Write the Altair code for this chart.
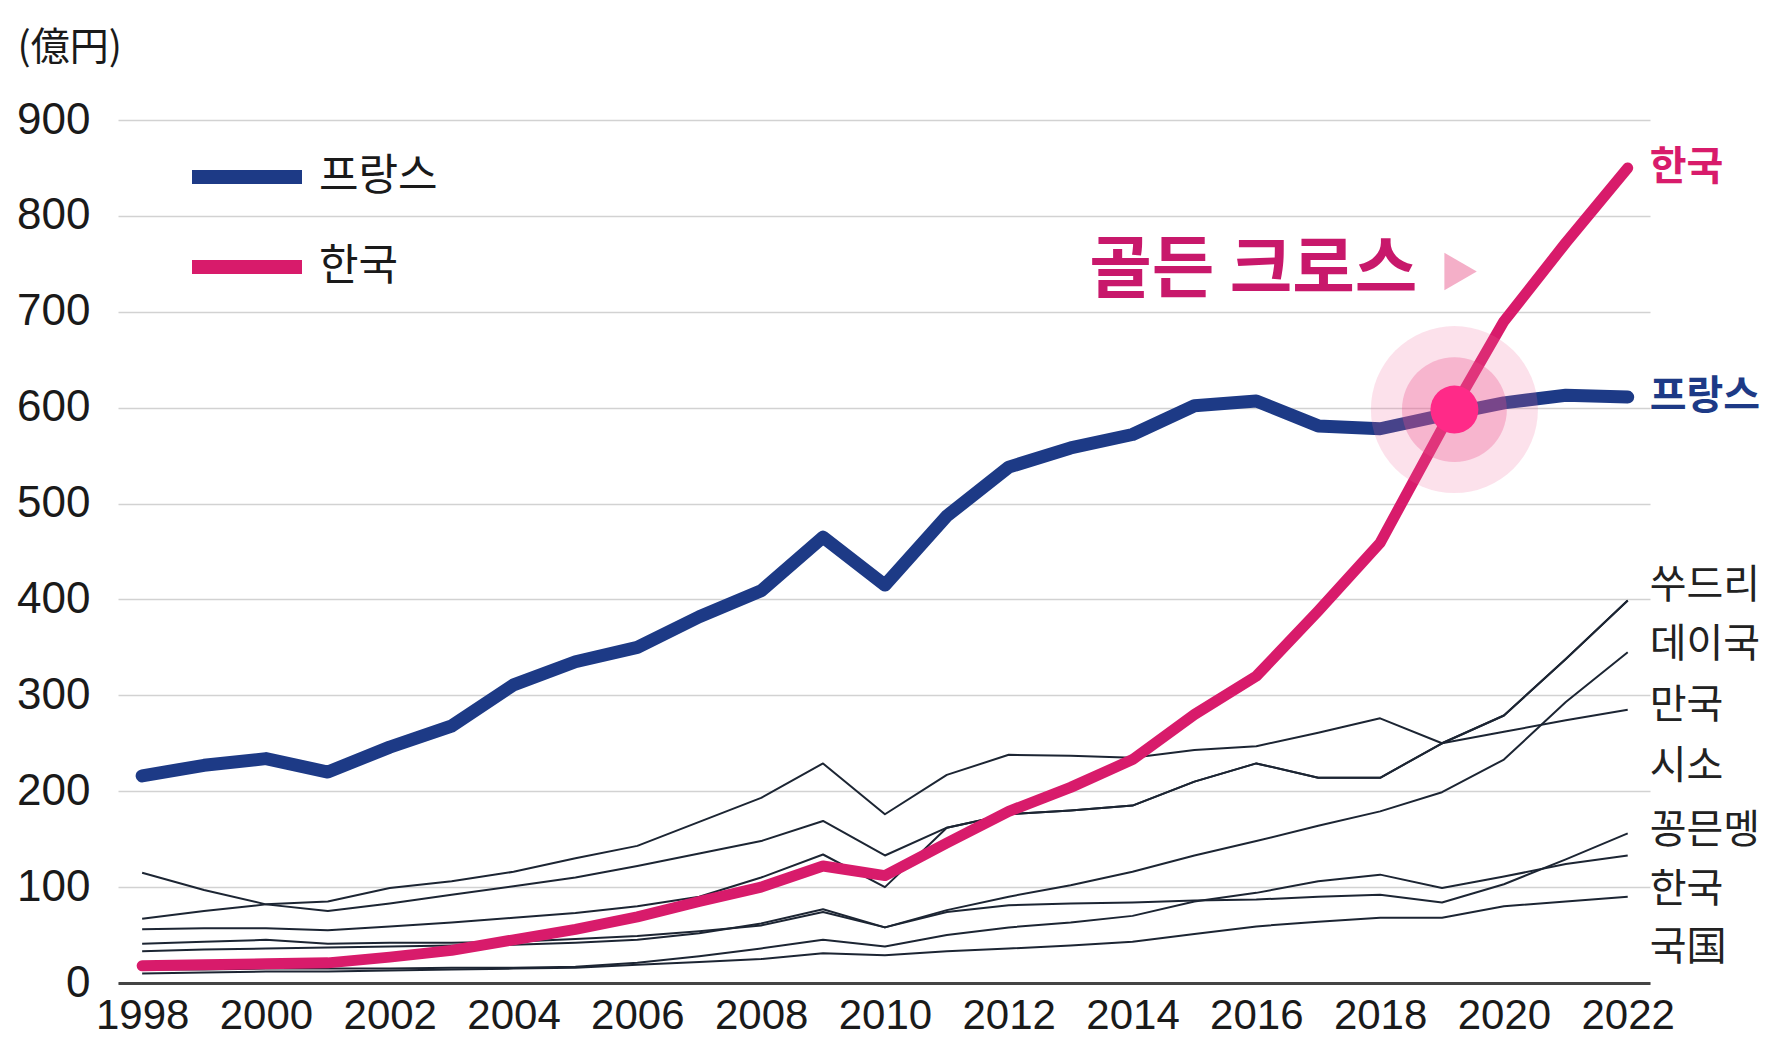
import altair as alt
import pandas as pd

# ---------------- data ----------------
years = list(range(1998, 2023))

france = [216, 227, 234, 220, 246, 268, 311, 335, 350, 382, 409, 465, 415,
          487, 538, 558, 572, 602, 607, 581, 578, 592, 605, 613, 611]
korea = [18, 19, 20, 21, 27, 34, 45, 56, 69, 85, 100, 122, 112,
         146, 179, 204, 233, 280, 320, 388, 459, 578, 690, 772, 850]

other_1 = [115, 97, 82, 75, 83, 92, 101, 110, 122, 135, 148, 169, 133,
           162, 176, 180, 185, 210, 229, 214, 214, 250, 279, 338, 399]
other_2 = [67, 75, 82, 85, 99, 106, 116, 130, 143, 168, 193, 229, 176,
           217, 238, 237, 235, 243, 247, 261, 276, 250, 262, 274, 285]
other_3 = [56, 57, 57, 55, 59, 63, 68, 73, 80, 90, 110, 134, 100,
           162, 176, 180, 185, 210, 229, 214, 214, 250, 279, 338, 399]
other_4 = [33, 35, 36, 37, 38, 39, 40, 42, 45, 52, 62, 77, 58,
           76, 90, 102, 116, 133, 148, 164, 179, 199, 233, 293, 345]
other_5 = [41, 43, 45, 41, 42, 42, 43, 46, 49, 54, 60, 74, 58,
           74, 81, 83, 84, 86, 87, 90, 92, 84, 103, 129, 156]
other_6 = [14, 14, 15, 15, 15, 16, 16, 17, 21, 28, 36, 45, 38,
           50, 58, 63, 70, 85, 94, 106, 113, 99, 111, 124, 133]
other_7 = [10, 11, 12, 12, 13, 14, 15, 16, 19, 22, 25, 31, 29,
           33, 36, 39, 43, 51, 59, 64, 68, 68, 80, 85, 90]

main_names = ["프랑스", "한국"]
side_labels = ["쑤드리", "데이국", "만국", "시소", "꽁믄멩", "한국", "국国"]
side_label_values = [414, 352, 289, 225, 158, 97, 36]

cross_year = [2019.2]
cross_value = [598]
annot_text = ["골든 크로스"]
annot_year = [2013.3]
annot_value = [742]
arrow_year = [2019.3]

# ---------------- tables ----------------
main_df = pd.DataFrame(
    [{"year": y, "value": v, "series": "프랑스"} for y, v in zip(years, france)]
    + [{"year": y, "value": v, "series": "한국"} for y, v in zip(years, korea)]
)
others = [other_1, other_2, other_3, other_4, other_5, other_6, other_7]
other_df = pd.DataFrame(
    [{"year": y, "value": v, "series": f"o{i}"}
     for i, s in enumerate(others) for y, v in zip(years, s)]
)
side_df = pd.DataFrame({"year": [years[-1]] * len(side_labels),
                        "value": side_label_values, "label": side_labels})
cross_df = pd.DataFrame({"year": cross_year, "value": cross_value})
annot_df = pd.DataFrame({"year": annot_year, "value": annot_value, "label": annot_text})
arrow_df = pd.DataFrame({"year": arrow_year, "value": annot_value})

NAVY = "#1D3A86"
PINK = "#D81B6B"
KFONT = "Noto Sans CJK KR"

xscale = alt.Scale(domain=[1997.61, 2022.36], nice=False, zero=False)
yscale = alt.Scale(domain=[0, 900], nice=False)

x_enc = alt.X("year:Q", scale=xscale, axis=alt.Axis(
    values=list(range(1998, 2023, 2)), format="d", grid=False, ticks=False,
    domain=True, domainColor="#444444", domainWidth=3,
    labelFont="Liberation Sans", labelFontSize=42, labelColor="#1a1a1a",
    labelPadding=12, title=None))
y_enc = alt.Y("value:Q", scale=yscale, axis=alt.Axis(
    values=list(range(0, 1000, 100)), grid=True, gridColor="#d2d2d2", gridWidth=1.6,
    domain=False, ticks=False, labelFont="Liberation Sans", labelFontSize=44,
    labelColor="#1a1a1a", labelPadding=28,
    title="(億円)", titleAngle=0, titleAlign="left", titleBaseline="middle",
    titleX=-101, titleY=-73, titleFont="Noto Sans CJK JP", titleFontSize=39,
    titleFontWeight="normal", titleColor="#1a1a1a"))

xs = alt.X("year:Q", scale=xscale)
ys = alt.Y("value:Q", scale=yscale)

color_enc = alt.Color(
    "series:N", scale=alt.Scale(domain=main_names, range=[NAVY, PINK]),
    sort=main_names,
    legend=alt.Legend(
        title=None, orient="none", legendX=67, legendY=-5, direction="vertical",
        symbolType="stroke", symbolSize=12100, symbolStrokeWidth=14,
        labelFont=KFONT, labelFontSize=43, labelColor="#1a1a1a", labelOffset=10,
        rowPadding=-56, padding=0, labelLimit=400,
    ),
)

black_lines = alt.Chart(other_df).mark_line(
    color="#1c2533", strokeWidth=2, strokeJoin="round"
).encode(x=x_enc, y=y_enc, detail="series:N")

fr_line = alt.Chart(main_df).transform_filter(alt.datum.series == "프랑스").mark_line(
    strokeCap="round", strokeJoin="round", strokeWidth=13
).encode(x=xs, y=ys, color=color_enc)

kr_line = alt.Chart(main_df).transform_filter(alt.datum.series == "한국").mark_line(
    strokeCap="round", strokeJoin="round", strokeWidth=11
).encode(x=xs, y=ys, color=color_enc)

glow_outer = alt.Chart(cross_df).mark_circle(size=27900, color="#F0679A", opacity=0.2).encode(x=xs, y=ys)
glow_mid = alt.Chart(cross_df).mark_circle(size=11000, color="#EC4F8B", opacity=0.3).encode(x=xs, y=ys)
glow_in = alt.Chart(cross_df).mark_circle(size=2300, color="#FF2A88", opacity=1).encode(x=xs, y=ys)

annot = alt.Chart(annot_df).mark_text(
    align="left", baseline="middle", font=KFONT, fontSize=68, fontWeight="bold", color="#C8186B"
).encode(x=xs, y=ys, text="label:N")
arrow = alt.Chart(arrow_df).mark_point(
    shape="triangle-right", filled=True, size=1400, color="#F4AFC8", opacity=1
).encode(x=xs, y=ys)

end_fr = alt.Chart(main_df).transform_filter(
    (alt.datum.series == "프랑스") & (alt.datum.year == years[-1])
).mark_text(align="left", baseline="middle", dx=22, font=KFONT, fontSize=40,
            fontWeight="bold", color=NAVY).encode(x=xs, y=ys, text="series:N")
end_kr = alt.Chart(main_df).transform_filter(
    (alt.datum.series == "한국") & (alt.datum.year == years[-1])
).mark_text(align="left", baseline="middle", dx=22, font=KFONT, fontSize=40,
            fontWeight="bold", color=PINK).encode(x=xs, y=ys, text="series:N")

side = alt.Chart(side_df).mark_text(
    align="left", baseline="middle", dx=22, font=KFONT, fontSize=40, color="#222222"
).encode(x=xs, y=ys, text="label:N")

chart = alt.layer(
    black_lines, fr_line, kr_line, glow_outer, glow_mid, glow_in, annot, arrow, end_fr, end_kr, side
).properties(
    width=1532, height=863,
    autosize=alt.AutoSizeParams(type="none"),
    padding={"left": 110, "top": 112, "right": 114, "bottom": 60},
    background="white",
).configure_view(stroke=None)

chart.save("out.html", embed_options={"renderer": "svg", "actions": False})
